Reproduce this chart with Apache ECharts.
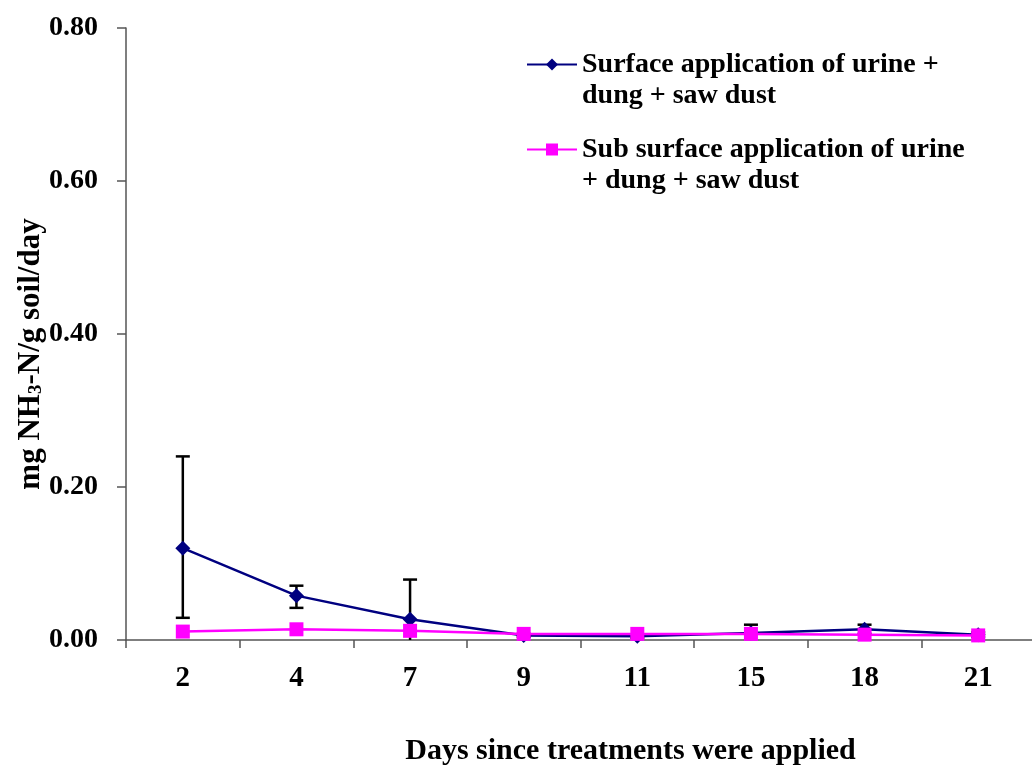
<!DOCTYPE html>
<html><head><meta charset="utf-8">
<script src="https://cdn.jsdelivr.net/npm/echarts@6/dist/echarts.min.js"></script>
<style>html,body{margin:0;padding:0;background:#fff}#c{width:1032px;height:767px}</style>
</head><body><div id="c"></div>
<script>
const days = ['2','4','7','9','11','15','18','21'];
const surface = [0.120, 0.058, 0.027, 0.006, 0.005, 0.009, 0.014, 0.007];
const surfaceErrPlus = [0.120, 0.013, 0.052, 0.002, 0.002, 0.011, 0.006, 0.003];
const surfaceErrMinus = [0.091, 0.016, 0.052, 0.002, 0.002, 0.011, 0.006, 0.003];
const subSurface = [0.011, 0.014, 0.012, 0.008, 0.008, 0.008, 0.007, 0.006];
const yTicks = [0, 0.2, 0.4, 0.6, 0.8];
const nameSurface = 'Surface application of urine +';
const nameSub = 'Sub surface application of urine';
const legendText = {};
legendText[nameSurface] = '\nSurface application of urine +\ndung + saw dust';
legendText[nameSub] = '\nSub surface application of urine\n+ dung + saw dust';

const FONT = '"Liberation Serif", "Times New Roman", serif';
const errData = days.map((d, i) => {
  const lo = surface[i] - surfaceErrMinus[i];
  return [i, Math.max(0, lo), surface[i] + surfaceErrPlus[i], lo > 0 ? 1 : 0];
});

const chart = echarts.init(document.getElementById('c'), null, {renderer: 'canvas'});
const legendBase = {
  orient: 'vertical', left: 521, itemWidth: 50, itemHeight: 15, itemGap: 0,
  formatter: n => legendText[n],
  textStyle: {fontFamily: FONT, fontWeight: 'bold', fontSize: 28, lineHeight: 31, color: '#000'}
};
chart.setOption({
  animation: false,
  grid: {left: 126, top: 28, width: 909, height: 612, containLabel: false, outerBoundsMode: 'none'},
  legend: [
    Object.assign({}, legendBase, {top: 13, data: [nameSurface]}),
    Object.assign({}, legendBase, {top: 98, data: [nameSub]})
  ],
  xAxis: {
    type: 'category', data: days, boundaryGap: true,
    name: 'Days since treatments were applied', nameLocation: 'middle', nameGap: 96,
    nameTextStyle: {fontFamily: FONT, fontWeight: 'bold', fontSize: 30, color: '#000', padding: [0, 0, 0, 100]},
    axisLine: {lineStyle: {color: '#555', width: 1.5}},
    axisTick: {show: true, alignWithLabel: false, length: 8, lineStyle: {color: '#555', width: 1.5}},
    axisLabel: {margin: 24, fontFamily: FONT, fontWeight: 'bold', fontSize: 29, color: '#000', interval: 0},
    splitLine: {show: false}
  },
  yAxis: {
    type: 'value', min: yTicks[0], max: yTicks[yTicks.length - 1], interval: 0.2,
    name: 'mg NH{sub|3}-N/g soil/day', nameLocation: 'middle', nameGap: 80, nameRotate: 90,
    nameMoveOverlap: false,
    nameTextStyle: {fontFamily: FONT, fontWeight: 'bold', fontSize: 31, color: '#000', padding: [0, 40, 0, 0],
      rich: {sub: {fontFamily: FONT, fontWeight: 'bold', fontSize: 19, color: '#000', verticalAlign: 'bottom', padding: [12, 0, 0, 0]}}},
    axisLine: {show: true, lineStyle: {color: '#555', width: 1.5}},
    axisTick: {show: true, length: 9, lineStyle: {color: '#555', width: 1.5}},
    axisLabel: {margin: 28, fontFamily: FONT, fontWeight: 'bold', fontSize: 28, color: '#000', formatter: v => v.toFixed(2)},
    splitLine: {show: false}
  },
  series: [
    {
      type: 'custom', name: 'err', z: 1, silent: true,
      data: errData,
      renderItem: (params, api) => {
        const x = api.value(0);
        const lo = api.coord([x, api.value(1)]);
        const hi = api.coord([x, api.value(2)]);
        const hw = 7;
        const st = {stroke: '#000', lineWidth: 2.5};
        const children = [
          {type: 'line', shape: {x1: hi[0], y1: hi[1], x2: lo[0], y2: lo[1]}, style: st},
          {type: 'line', shape: {x1: hi[0] - hw, y1: hi[1], x2: hi[0] + hw, y2: hi[1]}, style: st}
        ];
        if (api.value(3)) children.push({type: 'line', shape: {x1: lo[0] - hw, y1: lo[1], x2: lo[0] + hw, y2: lo[1]}, style: st});
        return {type: 'group', children};
      }
    },
    {
      type: 'line', name: nameSurface, data: surface, z: 3,
      symbol: 'diamond', symbolSize: 15,
      itemStyle: {color: '#000080'},
      lineStyle: {color: '#000080', width: 2.5}
    },
    {
      type: 'line', name: nameSub, data: subSurface, z: 4,
      symbol: 'rect', symbolSize: 14,
      itemStyle: {color: '#FF00FF'},
      lineStyle: {color: '#FF00FF', width: 2.5}
    }
  ]
});
</script></body></html>
